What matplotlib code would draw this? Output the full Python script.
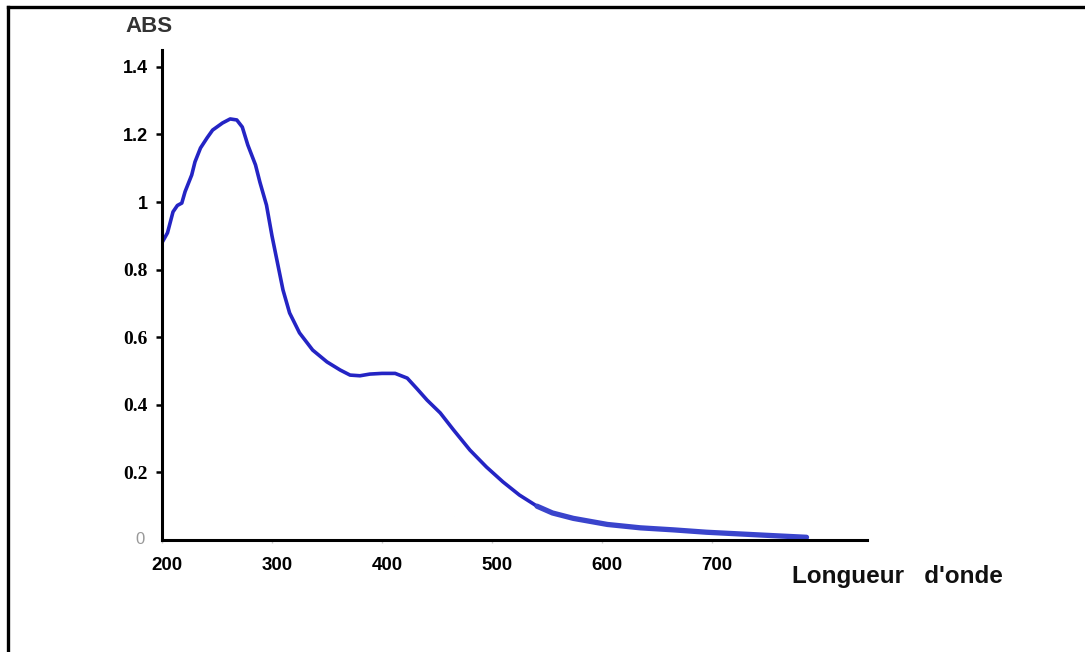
# spectre.py
# Absorption spectrum (ABS vs wavelength), redrawn from a scanned figure

import matplotlib
matplotlib.use("Agg")
import matplotlib.pyplot as plt
import matplotlib.transforms as mtransforms
from matplotlib.lines import Line2D

# -------------------------------
# Data
# -------------------------------
wavelength = [200, 205, 210, 214, 218, 221, 227, 230, 235, 241, 246, 255,
              262, 268, 273, 278, 285, 289, 295, 300, 305, 310, 316, 325,
              337, 350, 362, 371, 380, 389, 400, 412, 423, 432, 441, 453,
              465, 480, 495, 510, 525, 541, 555, 574, 605, 635, 665, 695,
              725, 755, 786]
absorbance = [0.88, 0.909, 0.971, 0.99, 0.997, 1.031, 1.080, 1.119, 1.160,
              1.190, 1.213, 1.234, 1.246, 1.243, 1.222, 1.169, 1.110, 1.059,
              0.991, 0.90, 0.820, 0.740, 0.672, 0.613, 0.562, 0.527, 0.503,
              0.488, 0.486, 0.491, 0.493, 0.493, 0.479, 0.447, 0.414, 0.376,
              0.326, 0.266, 0.216, 0.172, 0.133, 0.100, 0.080, 0.064, 0.046,
              0.036, 0.030, 0.023, 0.018, 0.013, 0.008]

x_ticks = [200, 300, 400, 500, 600, 700]
y_ticks = [0.2, 0.4, 0.6, 0.8, 1.0, 1.2, 1.4]
y_tick_labels = ["0.2", "0.4", "0.6", "0.8", "1", "1.2", "1.4"]

# the tail of the scanned curve is drawn thicker and lighter
tail_start = wavelength.index(541)

# -------------------------------
# Figure
# -------------------------------
fig = plt.figure(figsize=(10.85, 6.52), dpi=100)
ax = fig.add_axes([162 / 1085, 112 / 652, (867 - 162) / 1085, (540 - 50) / 652])

ax.plot(wavelength[:tail_start + 1], absorbance[:tail_start + 1],
        color="#2424c4", linewidth=2.6,
        solid_capstyle="round", solid_joinstyle="round")
ax.plot(wavelength[tail_start:], absorbance[tail_start:],
        color="#3a44cc", linewidth=3.8,
        solid_capstyle="round", solid_joinstyle="round")

ax.set_xlim(200, 841)
ax.set_ylim(0, 1.45)

# only left and bottom axis lines
for side in ["top", "right"]:
    ax.spines[side].set_visible(False)
for side in ["left", "bottom"]:
    ax.spines[side].set_linewidth(2.2)
    ax.spines[side].set_color("black")

ax.set_xticks(x_ticks)
ax.set_xticklabels([str(t) for t in x_ticks])
ax.tick_params(axis="x", length=2, width=1, color="#cccccc", pad=10,
               labelsize=13.5)
shift = mtransforms.ScaledTranslation(5 / 100, 0, fig.dpi_scale_trans)
for lab in ax.get_xticklabels():
    lab.set_fontweight("bold")
    lab.set_family("Liberation Sans")
    lab.set_transform(lab.get_transform() + shift)

ax.set_yticks(y_ticks)
ax.set_yticklabels(y_tick_labels)
ax.tick_params(axis="y", length=4, width=1.8, color="black", pad=6,
               labelsize=13)
# the lower labels look like Times, the upper ones like Arial
for val, lab in zip(y_ticks, ax.get_yticklabels()):
    lab.set_fontweight("bold")
    if val < 1:
        lab.set_family("Liberation Serif")
        lab.set_fontsize(14)
    else:
        lab.set_family("Liberation Sans")

# the faint "0" at the origin
ax.text(-0.025, 0, "0", transform=ax.get_yaxis_transform(), ha="right",
        va="center", fontsize=12, color="#999999", family="Liberation Sans")

# axis titles
fig.text(149 / 1085, 1 - 27 / 652, "ABS", ha="center", va="center",
         fontsize=16, fontweight="bold", color="#333333",
         family="Liberation Sans")
fig.text(897 / 1085, 1 - 576 / 652, "Longueur   d'onde", ha="center",
         va="center", fontsize=17.5, fontweight="bold", color="#111111",
         family="Liberation Sans")

# frame of the scanned page: top and left only
fig.add_artist(Line2D([8 / 1085, 1.0], [1 - 7 / 652, 1 - 7 / 652],
                      transform=fig.transFigure, color="black", linewidth=2.4))
fig.add_artist(Line2D([8 / 1085, 8 / 1085], [0, 1 - 7 / 652],
                      transform=fig.transFigure, color="black", linewidth=2.4))

fig.savefig("out.png", dpi=100, facecolor="white")
